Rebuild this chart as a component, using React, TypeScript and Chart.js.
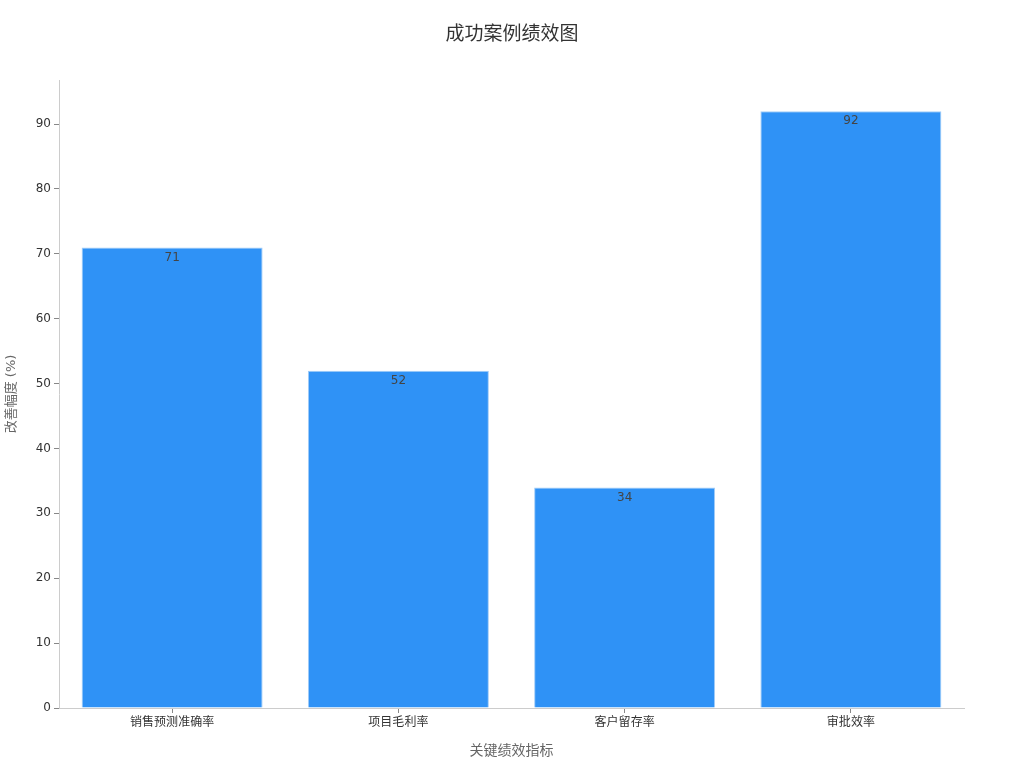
import React, { useEffect, useRef } from 'react';
import { Chart, registerables } from 'chart.js';

Chart.register(...registerables);

const categories = ['销售预测准确率', '项目毛利率', '客户留存率', '审批效率'];
const improvement = [71, 52, 34, 92];

const FONT = "'DejaVu Sans', 'Noto Sans CJK SC', sans-serif";

const titlePlugin = {
    id: 'centerTitle',
    afterDraw(chart: any) {
        const ctx = chart.ctx;
        ctx.save();
        ctx.font = `19px ${FONT}`;
        ctx.fillStyle = '#333333';
        ctx.textAlign = 'center';
        ctx.textBaseline = 'middle';
        ctx.fillText('成功案例绩效图', 512, 35);
        ctx.restore();
    },
};

const valueLabels = {
    id: 'valueLabels',
    afterDatasetsDraw(chart: any) {
        const ctx = chart.ctx;
        const meta = chart.getDatasetMeta(0);
        ctx.save();
        ctx.font = `12px ${FONT}`;
        ctx.fillStyle = '#444444';
        ctx.textAlign = 'center';
        ctx.textBaseline = 'middle';
        meta.data.forEach((bar: any, i: number) => {
            ctx.fillText(String(improvement[i]), bar.x, bar.y + 10);
        });
        ctx.restore();
    },
};

export default function App() {
    const canvasRef = useRef<HTMLCanvasElement>(null);
    const chartInstance = useRef<Chart | null>(null);

    useEffect(() => {
        if (!canvasRef.current) return;
        document.body.style.margin = '0';

        if (chartInstance.current) {
            chartInstance.current.destroy();
        }

        chartInstance.current = new Chart(canvasRef.current, {
            type: 'bar',
            data: {
                labels: categories,
                datasets: [{
                    data: improvement,
                    backgroundColor: '#2f92f6',
                    borderColor: '#a3cdf7',
                    borderWidth: 1,
                    barPercentage: 0.8,
                    categoryPercentage: 1,
                }]
            },
            options: {
                responsive: false,
                animation: false,
                layout: { padding: { top: 80, right: 60, bottom: 0, left: 0 } },
                plugins: {
                    legend: { display: false },
                    tooltip: { enabled: false },
                },
                scales: {
                    x: {
                        afterFit: (scale: any) => { scale.height = 60; },
                        grid: { display: true, drawOnChartArea: false, drawTicks: true, tickLength: 5, color: '#888888', offset: false },
                        border: { display: true, color: '#cccccc' },
                        ticks: { color: '#333333', padding: 3, font: { family: FONT, size: 12 } },
                        title: { display: true, text: '关键绩效指标', color: '#666666', font: { family: FONT, size: 14 }, padding: { top: 8, bottom: 8 } },
                    },
                    y: {
                        min: 0,
                        max: 96.8,
                        afterFit: (scale: any) => { scale.width = 59; },
                        grid: { display: true, drawOnChartArea: false, drawTicks: true, tickLength: 5, color: '#888888' },
                        border: { display: true, color: '#cccccc' },
                        ticks: { stepSize: 10, includeBounds: false, color: '#333333', padding: 3, font: { family: FONT, size: 12 } },
                        title: { display: true, text: '改善幅度 (%)', color: '#666666', font: { family: FONT, size: 13 }, padding: { top: 4, bottom: 4 } },
                    },
                },
            } as any,
            plugins: [titlePlugin, valueLabels],
        });

        return () => {
            if (chartInstance.current) {
                chartInstance.current.destroy();
                chartInstance.current = null;
            }
        };
    }, []);

    return (
        <div style={{ width: 1024, height: 768, background: '#ffffff' }}>
            <canvas ref={canvasRef} width={1024} height={768}></canvas>
        </div>
    );
}
